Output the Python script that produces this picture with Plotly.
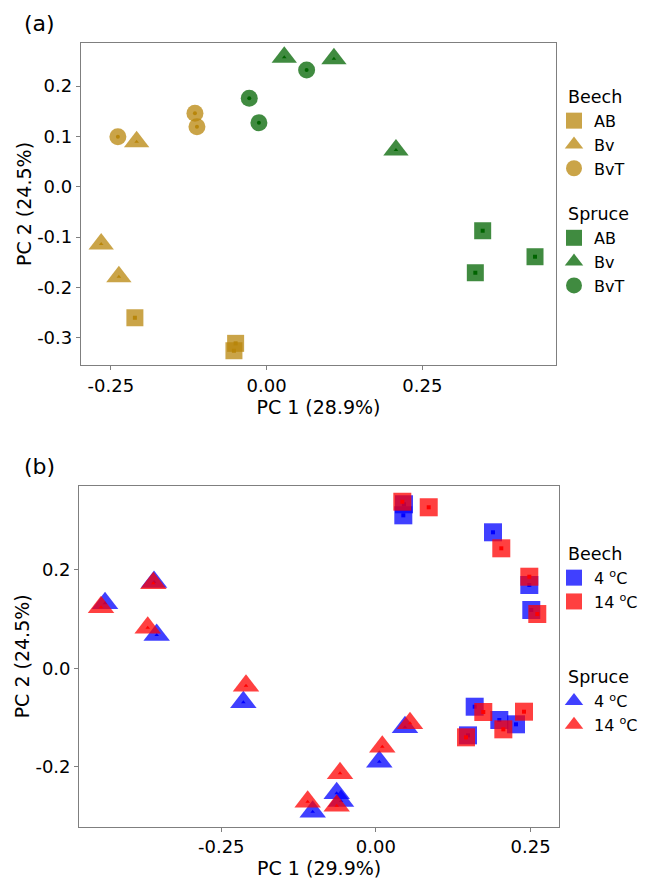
import plotly.graph_objects as go

# ---------- Panel (a) data ----------
a_beech_AB_x = [-0.2115, -0.0498, -0.0525]
a_beech_AB_y = [-0.2602, -0.3110, -0.3257]
a_beech_Bv_x = [-0.2087, -0.2656, -0.2372]
a_beech_Bv_y = [0.0894, -0.1138, -0.1787]
a_beech_BvT_x = [-0.2388, -0.1151, -0.1119]
a_beech_BvT_y = [0.0993, 0.1458, 0.1192]

a_spruce_AB_x = [0.3468, 0.4308, 0.3350]
a_spruce_AB_y = [-0.0874, -0.1390, -0.1708]
a_spruce_Bv_x = [0.0283, 0.1080, 0.2076]
a_spruce_Bv_y = [0.2570, 0.2542, 0.0729]
a_spruce_BvT_x = [-0.0279, -0.0124, 0.0642]
a_spruce_BvT_y = [0.1756, 0.1271, 0.2318]

# ---------- Panel (b) data ----------
b_beech_4_x = [0.0454, 0.0443, 0.1893, 0.2480, 0.2512, 0.1597, 0.1995, 0.2265, 0.1489]
b_beech_4_y = [0.3327, 0.3103, 0.2759, 0.1690, 0.1183, -0.0779, -0.1049, -0.1136, -0.1360]
b_beech_14_x = [0.0427, 0.0854, 0.2027, 0.2480, 0.2609, 0.1736, 0.2060, 0.2394, 0.1457]
b_beech_14_y = [0.3380, 0.3266, 0.2434, 0.1858, 0.1101, -0.0886, -0.1238, -0.0880, -0.1400]

b_spruce_4_x = [-0.4379, -0.3587, -0.3544, -0.2143, -0.1022, -0.0634, -0.0564, 0.0055, 0.0470]
b_spruce_4_y = [0.1318, 0.1750, 0.0675, -0.0690, -0.2908, -0.2535, -0.2690, -0.1894, -0.1197]
b_spruce_14_x = [-0.4444, -0.3598, -0.3689, -0.2100, -0.1103, -0.0580, -0.0634, 0.0103, 0.0551]
b_spruce_14_y = [0.1237, 0.1724, 0.0824, -0.0352, -0.2705, -0.2130, -0.2790, -0.1590, -0.1116]

# ---------- ticks ----------
a_xticks = [-0.25, 0.0, 0.25]
a_xticktext = ["-0.25", "0.00", "0.25"]
a_yticks = [-0.3, -0.2, -0.1, 0.0, 0.1, 0.2]
a_yticktext = ["-0.3", "-0.2", "-0.1", "0.0", "0.1", "0.2"]
b_xticks = [-0.25, 0.0, 0.25]
b_xticktext = ["-0.25", "0.00", "0.25"]
b_yticks = [-0.2, 0.0, 0.2]
b_yticktext = ["-0.2", "0.0", "0.2"]

GOLD = "#B8860B"
GREEN = "#006400"
BLUE = "#0000FF"
RED = "#FF0000"
FONT = "DejaVu Sans"
NB = "\u00a0\u2009"

fig = go.Figure()

def add(x, y, sym, color, name, group, xa, ya, legend, size):
    fig.add_trace(go.Scatter(
        x=x, y=y, mode="markers", name=name,
        legendgroup=group + legend, legendgrouptitle=dict(text=NB + group),
        legend=legend, xaxis=xa, yaxis=ya,
        marker=dict(symbol=sym, size=size, color=color, opacity=0.75,
                    line=dict(width=0)),
    ))
    fig.add_trace(go.Scatter(
        x=x, y=y, mode="markers", showlegend=False, hoverinfo="skip",
        xaxis=xa, yaxis=ya, legend=legend,
        marker=dict(symbol=sym, size=4, color=color, line=dict(width=0)),
    ))

SQ, TR, CI = 17, 22, 17
add(a_beech_AB_x, a_beech_AB_y, "square", GOLD, "AB", "Beech", "x", "y", "legend", SQ)
add(a_beech_Bv_x, a_beech_Bv_y, "triangle-up", GOLD, "Bv", "Beech", "x", "y", "legend", TR)
add(a_beech_BvT_x, a_beech_BvT_y, "circle", GOLD, "BvT", "Beech", "x", "y", "legend", CI)
add(a_spruce_AB_x, a_spruce_AB_y, "square", GREEN, "AB", "Spruce", "x", "y", "legend", SQ)
add(a_spruce_Bv_x, a_spruce_Bv_y, "triangle-up", GREEN, "Bv", "Spruce", "x", "y", "legend", TR)
add(a_spruce_BvT_x, a_spruce_BvT_y, "circle", GREEN, "BvT", "Spruce", "x", "y", "legend", CI)

add(b_beech_4_x, b_beech_4_y, "square", BLUE, "4 <sup>o</sup>C", "Beech", "x2", "y2", "legend2", 18)
add(b_beech_14_x, b_beech_14_y, "square", RED, "14 <sup>o</sup>C", "Beech", "x2", "y2", "legend2", 18)
add(b_spruce_4_x, b_spruce_4_y, "triangle-up", BLUE, "4 <sup>o</sup>C", "Spruce", "x2", "y2", "legend2", 23)
add(b_spruce_14_x, b_spruce_14_y, "triangle-up", RED, "14 <sup>o</sup>C", "Spruce", "x2", "y2", "legend2", 23)

axis_common = dict(showline=True, mirror=True, linecolor="#7f7f7f", linewidth=1.3,
                   ticks="outside", ticklen=4, tickcolor="#7f7f7f", showgrid=False,
                   zeroline=False, automargin=False,
                   tickfont=dict(family=FONT, size=18, color="black"),
                   title_font=dict(family=FONT, size=19, color="black"))

W, H = 645, 879
fig.update_layout(
    width=W, height=H, margin=dict(l=0, r=0, t=0, b=0),
    paper_bgcolor="white", plot_bgcolor="white",
    font=dict(family=FONT, color="black"),
    xaxis=dict(domain=[81 / W, 556 / W], range=[-0.298, 0.4645], anchor="y",
               tickmode="array", tickvals=a_xticks, ticktext=a_xticktext,
               title=dict(text="PC 1 (28.9%)", standoff=0), **axis_common),
    yaxis=dict(domain=[1 - 365 / H, 1 - 43 / H], range=[-0.354, 0.2854], anchor="x",
               tickmode="array", tickvals=a_yticks, ticktext=a_yticktext,
               title=dict(text="PC 2 (24.5%)", standoff=0), **axis_common),
    xaxis2=dict(domain=[79.3 / W, 559 / W], range=[-0.4795, 0.296], anchor="y2",
                tickmode="array", tickvals=b_xticks, ticktext=b_xticktext,
                title=dict(text="PC 1 (29.9%)", standoff=2), **axis_common),
    yaxis2=dict(domain=[1 - 826.7 / H, 1 - 486 / H], range=[-0.3213, 0.3698], anchor="x2",
                tickmode="array", tickvals=b_yticks, ticktext=b_yticktext,
                title=dict(text="PC 2 (24.5%)", standoff=0), **axis_common),
    legend=dict(x=554 / W, y=1 - 78 / H, xanchor="left", yanchor="top",
                font=dict(family=FONT, size=16), tracegroupgap=20,
                grouptitlefont=dict(family=FONT, size=17.5), itemwidth=30,
                bgcolor="rgba(0,0,0,0)"),
    legend2=dict(x=554 / W, y=1 - 535 / H, xanchor="left", yanchor="top",
                 font=dict(family=FONT, size=16), tracegroupgap=50,
                 grouptitlefont=dict(family=FONT, size=17.5), itemwidth=30,
                 bgcolor="rgba(0,0,0,0)"),
    annotations=[
        dict(text="(a)", x=22 / W, y=1 - 23 / H, xref="paper", yref="paper",
             xanchor="left", yanchor="middle", showarrow=False,
             font=dict(family=FONT, size=22)),
        dict(text="(b)", x=22 / W, y=1 - 466 / H, xref="paper", yref="paper",
             xanchor="left", yanchor="middle", showarrow=False,
             font=dict(family=FONT, size=22)),
    ],
)

fig.write_html(
    "out.html",
    config={"displayModeBar": False},
    post_script="document.documentElement.style.margin='0';"
                "document.body.style.margin='0';"
                "document.body.style.overflow='hidden';",
)
